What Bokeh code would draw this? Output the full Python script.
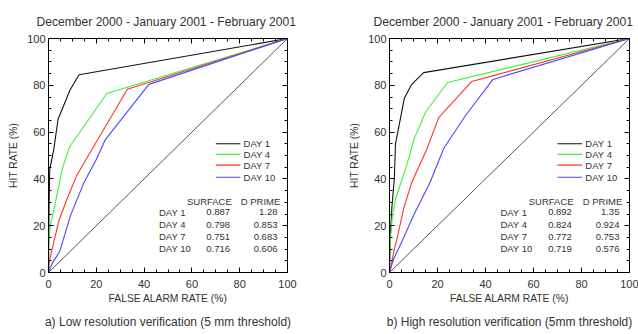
from bokeh.plotting import figure
from bokeh.models import Range1d, LinearAxis, Title, SingleIntervalTicker
from bokeh.layouts import row
from bokeh.embed import file_html
from bokeh.resources import INLINE
from bokeh.core.properties import value

FONT = "Liberation Sans"
TXT = "#333333"

title_text = "December 2000 - January 2001 - February 2001"
caption_a = "a) Low resolution verification (5 mm threshold)"
caption_b = "b) High resolution verification (5mm threshold)"
days = ["DAY 1", "DAY 4", "DAY 7", "DAY 10"]
colors = ["#111111", "#3cf03c", "#ff3333", "#4848ff"]

# Low resolution (panel a)
lo_far_d1 = [0, 0.2, 0.5, 2.2, 4, 9, 12.8, 100]
lo_hit_d1 = [0, 26, 44, 52.5, 65.5, 78, 84.5, 100]
lo_far_d4 = [0, 0, 0.8, 2.9, 5.7, 8.7, 24.4, 100]
lo_hit_d4 = [0, 12, 20, 30, 44, 53.5, 76.5, 100]
lo_far_d7 = [0, 0.4, 2, 4.3, 7.8, 11.7, 15.5, 33, 100]
lo_hit_d7 = [0, 5, 12, 22, 31.5, 41.2, 48, 78.3, 100]
lo_far_d10 = [0, 1.5, 4.7, 9.2, 14.8, 20, 23.8, 42, 100]
lo_hit_d10 = [0, 3.8, 9, 24.3, 38.4, 48.3, 56.8, 80.4, 100]
lo_surface = ["0.887", "0.798", "0.751", "0.716"]
lo_dprime = ["1.28", "0.853", "0.683", "0.606"]

# High resolution (panel b)
hi_far_d1 = [0, 0.3, 1, 2, 2.5, 6.2, 9.2, 14.2, 100]
hi_hit_d1 = [0, 15, 28, 40, 55, 74.5, 80.3, 85.4, 100]
hi_far_d4 = [0, 0.3, 1.1, 2.5, 5.3, 8, 10.2, 15, 24.2, 100]
hi_hit_d4 = [0, 13, 23, 31.5, 40, 48.7, 57, 68.5, 81.2, 100]
hi_far_d7 = [0, 0.4, 1.8, 3.2, 5.9, 9.4, 15.6, 20.5, 34.2, 100]
hi_hit_d7 = [0, 1.5, 9, 14.7, 27.4, 38.8, 52.8, 66.2, 81.6, 100]
hi_far_d10 = [0, 1.8, 4.6, 10.1, 17, 22.6, 24.5, 31.6, 43.1, 100]
hi_hit_d10 = [0, 6, 12, 24.6, 38.8, 53, 56, 67, 82.5, 100]
hi_surface = ["0.892", "0.824", "0.772", "0.719"]
hi_dprime = ["1.35", "0.924", "0.753", "0.576"]

diag = [0, 100]
legend_y = [55, 50.5, 45.9, 40.7]
table_y = [25.7, 20.5, 15.3, 10.2]
header_y = 30.5

W = 319
H = 334


def panel(left, frame_w, curves, surface, dprime, caption, title_offset):
    p = figure(width=W, height=H, x_range=Range1d(0, 100), y_range=Range1d(0, 100),
               output_backend="svg", toolbar_location=None,
               min_border_left=left, min_border_right=W - left - frame_w,
               min_border_top=38, min_border_bottom=60, title=title_text)
    p.title.align = "left"
    p.title.vertical_align = "top"
    p.title.offset = title_offset
    p.title.text_font = FONT
    p.title.text_font_size = "12.1px"
    p.title.text_font_style = "normal"
    p.title.text_color = TXT
    p.title.standoff = 16
    p.grid.visible = False
    p.outline_line_color = "black"
    p.background_fill_color = "white"
    p.border_fill_color = "white"

    def style(ax, labels=True):
        ax.ticker = SingleIntervalTicker(interval=20, num_minor_ticks=4)
        ax.major_tick_in = 5
        ax.major_tick_out = 0
        ax.minor_tick_in = 3
        ax.minor_tick_out = 0
        ax.axis_line_color = "black"
        ax.major_tick_line_color = "black"
        ax.minor_tick_line_color = "black"
        ax.major_label_text_font = FONT
        ax.major_label_text_font_size = "11px" if labels else "1px"
        ax.major_label_text_color = TXT if labels else None
        ax.axis_label_text_font = FONT
        ax.axis_label_text_font_size = "10.3px"
        ax.axis_label_text_font_style = "normal"
        ax.axis_label_text_color = TXT

    style(p.xaxis[0])
    style(p.yaxis[0])
    p.xaxis.axis_label = "FALSE ALARM RATE (%)"
    p.yaxis.axis_label = "HIT RATE (%)"
    p.xaxis.major_label_standoff = 7
    p.yaxis.major_label_standoff = 3
    p.xaxis.axis_label_standoff = 2
    p.yaxis.axis_label_standoff = 5
    top = LinearAxis()
    style(top, False)
    top.major_label_standoff = 0
    p.add_layout(top, "above")
    rgt = LinearAxis()
    style(rgt, False)
    rgt.major_label_standoff = 0
    p.add_layout(rgt, "right")

    p.line(diag, diag, line_color="#555555", line_width=1)
    for (fx, hy), c in zip(curves, colors):
        p.line(fx, hy, line_color=c, line_width=1.1)

    # legend
    for yv, c in zip(legend_y, colors):
        p.line([70, 80.3], [yv, yv], line_color=c, line_width=1.1)
    fs = "9.5px"
    p.text(x=[81.6] * 4, y=legend_y, text=days, text_font=value(FONT), text_font_size=fs,
           text_color=TXT, text_baseline="middle", text_align="left")

    # table
    p.text(x=[46.2] * 4, y=table_y, text=days, text_font=value(FONT), text_font_size=fs,
           text_color=TXT, text_baseline="middle", text_align="left")
    p.text(x=[76.7], y=[header_y], text=["SURFACE"], text_font=value(FONT), text_font_size=fs,
           text_color=TXT, text_baseline="middle", text_align="right")
    p.text(x=[97.0], y=[header_y], text=["D PRIME"], text_font=value(FONT), text_font_size=fs,
           text_color=TXT, text_baseline="middle", text_align="right")
    p.text(x=[76.0] * 4, y=table_y, text=surface, text_font=value(FONT), text_font_size=fs,
           text_color=TXT, text_baseline="middle", text_align="right")
    p.text(x=[95.8] * 4, y=table_y, text=dprime, text_font=value(FONT), text_font_size=fs,
           text_color=TXT, text_baseline="middle", text_align="right")

    cap = Title(text=caption, align="center", text_font=FONT, text_font_size="12px",
                text_font_style="normal", text_color=TXT, standoff=12)
    p.add_layout(cap, "below")
    return p


pa = panel(48, 239,
           [(lo_far_d1, lo_hit_d1), (lo_far_d4, lo_hit_d4), (lo_far_d7, lo_hit_d7), (lo_far_d10, lo_hit_d10)],
           lo_surface, lo_dprime, caption_a, -12)
pb = panel(70, 240,
           [(hi_far_d1, hi_hit_d1), (hi_far_d4, hi_hit_d4), (hi_far_d7, hi_hit_d7), (hi_far_d10, hi_hit_d10)],
           hi_surface, hi_dprime, caption_b, -16)

layout = row(pa, pb)
open("out.html", "w").write(file_html(layout, INLINE))
